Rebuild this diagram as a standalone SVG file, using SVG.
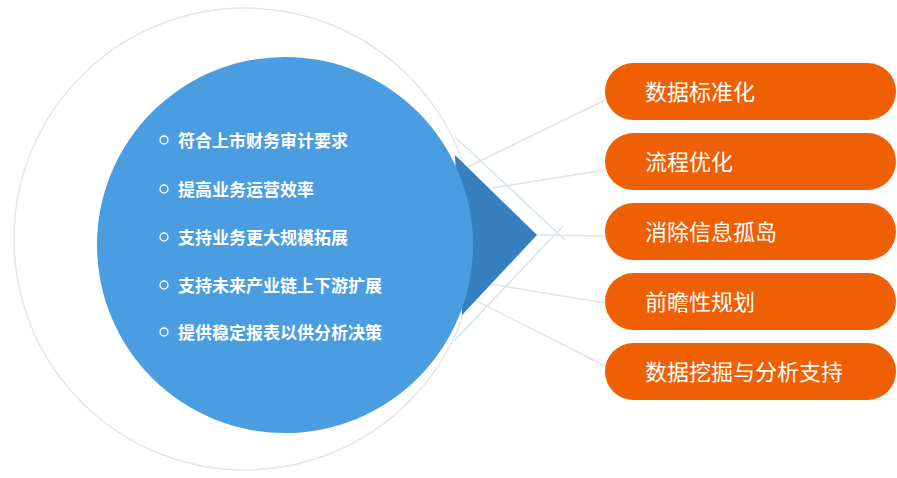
<svg xmlns="http://www.w3.org/2000/svg" width="897" height="478" viewBox="0 0 897 478">
<style>
.b{font-family:"Noto Sans CJK SC","Noto Sans",sans-serif;font-weight:bold;font-size:17px;fill:#fff}
.p{fill:#ef5f03}
.pt{font-family:"Noto Sans CJK SC","Noto Sans",sans-serif;font-size:22px;fill:#fff}
.d{fill:none;stroke:#fff;stroke-width:1.3}
.g{stroke:#e3e3e3;stroke-width:1.5}
.lb{stroke:#d4e6f3;stroke-width:1.5}
</style>
<circle cx="245" cy="239" r="231" fill="#fff" stroke="#e6e6e6" stroke-width="1.5"/>
<g id="connectors">
<line class="lb" x1="455" y1="137" x2="565" y2="240"/>
<line class="lb" x1="455" y1="340" x2="563" y2="226"/>
<line class="g" x1="468" y1="167" x2="605" y2="100"/>
<line class="g" x1="492" y1="188" x2="605" y2="170"/>
<line class="g" x1="537" y1="235" x2="605" y2="236"/>
<line class="g" x1="490" y1="284" x2="605" y2="303"/>
<line class="g" x1="475" y1="300" x2="605" y2="366"/>
</g>
<g id="pointer"><polygon points="455,155 537,235 462,315" fill="#3780c0"/></g>
<g id="center">
<circle cx="285" cy="245" r="188" fill="#4b9de2"/>
<circle class="d" cx="164" cy="140" r="4"/><text class="b" x="178" y="147">符合上市财务审计要求</text>
<circle class="d" cx="164" cy="189" r="4"/><text class="b" x="178" y="196">提高业务运营效率</text>
<circle class="d" cx="164" cy="237" r="4"/><text class="b" x="178" y="244">支持业务更大规模拓展</text>
<circle class="d" cx="164" cy="285" r="4"/><text class="b" x="178" y="292">支持未来产业链上下游扩展</text>
<circle class="d" cx="164" cy="332" r="4"/><text class="b" x="178" y="339">提供稳定报表以供分析决策</text>
</g>
<g id="n1"><rect class="p" x="605" y="63" width="291" height="57" rx="28.5"/><text class="pt" x="645" y="100">数据标准化</text></g>
<g id="n2"><rect class="p" x="605" y="133" width="291" height="57" rx="28.5"/><text class="pt" x="645" y="170">流程优化</text></g>
<g id="n3"><rect class="p" x="605" y="203" width="291" height="57" rx="28.5"/><text class="pt" x="645" y="240">消除信息孤岛</text></g>
<g id="n4"><rect class="p" x="605" y="273" width="291" height="57" rx="28.5"/><text class="pt" x="645" y="310">前瞻性规划</text></g>
<g id="n5"><rect class="p" x="605" y="343" width="291" height="57" rx="28.5"/><text class="pt" x="645" y="380">数据挖掘与分析支持</text></g>
</svg>
